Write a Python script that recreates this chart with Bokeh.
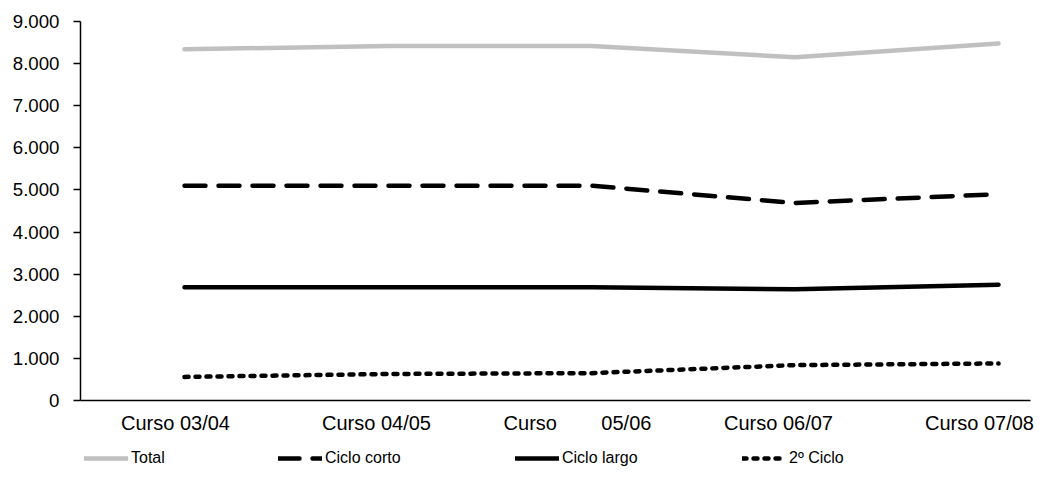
from bokeh.plotting import figure
from bokeh.layouts import column
from bokeh.models import Range1d, FixedTicker, LinearAxis, Legend, LegendItem
from bokeh.embed import file_html
from bokeh.resources import INLINE

# Academic years (the 05/06 label keeps its wide gap)
cursos = ["Curso 03/04", "Curso 04/05", "Curso" + "\u00a0" * 8 + "05/06",
          "Curso 06/07", "Curso 07/08"]
curso_idx = list(range(len(cursos)))

# Enrolled students per course
total = [8340, 8420, 8420, 8150, 8480]
ciclo_corto = [5100, 5100, 5100, 4690, 4900]
ciclo_largo = [2690, 2690, 2690, 2640, 2750]
segundo_ciclo = [560, 630, 650, 840, 880]

series_names = ["Total", "Ciclo corto", "Ciclo largo", "2º Ciclo"]
series_values = [total, ciclo_corto, ciclo_largo, segundo_ciclo]

y_ticks = [0, 1000, 2000, 3000, 4000, 5000, 6000, 7000, 8000, 9000]
y_tick_labels = ["0", "1.000", "2.000", "3.000", "4.000", "5.000",
                 "6.000", "7.000", "8.000", "9.000"]

FONT = "Liberation Sans"

styles = [
    dict(line_color="#C0C0C0", line_width=4.5),
    dict(line_color="black", line_width=4.5, line_dash="21 13"),
    dict(line_color="black", line_width=4.5),
    dict(line_color="black", line_width=4.5, line_dash="4 7"),
]

# horizontal offsets of the legend entries inside the legend strip
legend_x = [4, 198, 435, 662]

p = figure(width=1044, height=440, output_backend="svg", toolbar_location=None,
           x_range=Range1d(-0.511, 4.157), y_range=Range1d(0, 9000),
           x_axis_type=None, min_border_left=80, min_border_right=14,
           min_border_top=21, min_border_bottom=40)
p.outline_line_color = None
p.grid.visible = False
p.background_fill_color = "white"
p.border_fill_color = "white"

# Category axis on its own scale
p.extra_x_ranges = {"cursos": Range1d(-0.4726, 4.2538)}
xa = LinearAxis(x_range_name="cursos", ticker=FixedTicker(ticks=curso_idx),
                major_label_overrides={i: c for i, c in zip(curso_idx, cursos)})
xa.major_tick_line_color = None
xa.minor_tick_line_color = None
xa.axis_line_color = "black"
xa.axis_line_width = 1.5
xa.major_label_text_font = FONT
xa.major_label_text_font_size = "15pt"
xa.major_label_text_color = "black"
xa.major_label_standoff = 5
p.add_layout(xa, "below")

ya = p.yaxis[0]
ya.ticker = FixedTicker(ticks=y_ticks)
ya.major_label_overrides = {t: l for t, l in zip(y_ticks, y_tick_labels)}
ya.minor_tick_line_color = None
ya.major_tick_in = 0
ya.major_tick_out = 7
ya.major_tick_line_width = 1.5
ya.axis_line_width = 1.5
ya.axis_line_color = "black"
ya.major_label_text_font = FONT
ya.major_label_text_font_size = "14pt"
ya.major_label_text_color = "black"
ya.major_label_standoff = 14

for ys, st in zip(series_values, styles):
    p.line(curso_idx, ys, line_cap="round", line_join="round", **st)

# Legend strip underneath the chart; its series lie outside its view,
# so only the legend samples show
lg = figure(width=1044, height=40, output_backend="svg", toolbar_location=None,
            x_range=Range1d(0, 1), y_range=Range1d(0, 1),
            x_axis_type=None, y_axis_type=None,
            min_border_left=80, min_border_right=14,
            min_border_top=0, min_border_bottom=0)
lg.outline_line_color = None
lg.grid.visible = False
for name, ys, st, lx in zip(series_names, series_values, styles, legend_x):
    r = lg.line(curso_idx, ys, line_cap="round", line_join="round", **st)
    leg = Legend(items=[LegendItem(label=name, renderers=[r])],
                 orientation="horizontal", location=(lx, 13),
                 glyph_width=44, glyph_height=18, label_standoff=3,
                 padding=0, margin=0,
                 border_line_color=None, background_fill_alpha=0,
                 label_text_font=FONT, label_text_font_size="12pt",
                 label_text_color="black")
    lg.add_layout(leg, "center")

layout = column(p, lg, spacing=0)
open("out.html", "w").write(file_html(layout, INLINE))
